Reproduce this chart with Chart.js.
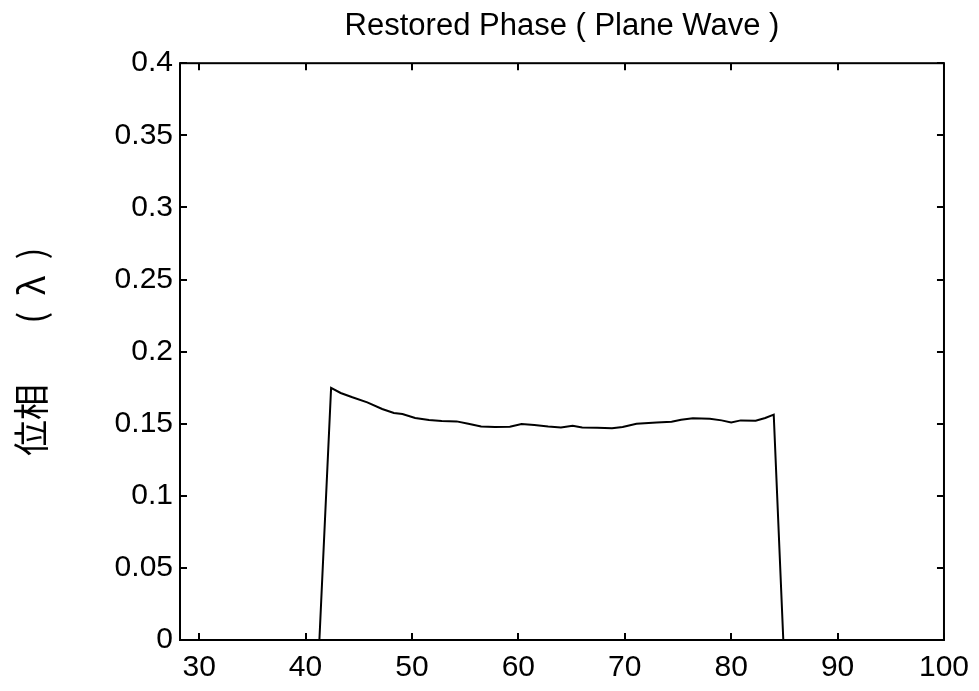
<!DOCTYPE html>
<html>
<head>
<meta charset="utf-8">
<script src="https://cdn.jsdelivr.net/npm/chart.js@4"></script>
<style>html,body{margin:0;padding:0;background:#fff;}</style>
</head>
<body>
<canvas id="c" width="979" height="691"></canvas>
<script>
// ---- data ----
const titleText = 'Restored Phase ( Plane Wave )';
const yTitleText = '位相　   (  λ  )';
const xValues = [28.2, 41.3, 42.4, 43.3, 44.4, 45.8, 47.2, 48.3, 49.1, 50.3,
                 51.6, 52.8, 54.2, 55.3, 56.5, 57.8, 59.2, 60.3, 61.5, 62.8,
                 64.0, 65.1, 66.0, 67.4, 68.8, 69.8, 71.1, 73.0, 74.4, 75.3,
                 76.4, 78.0, 79.1, 80.0, 80.9, 82.3, 83.2, 84.0, 84.9, 100];
const phase = [0, 0, 0.1748, 0.1713, 0.1683, 0.1648, 0.1602, 0.1574, 0.1567, 0.1540,
               0.1525, 0.1519, 0.1516, 0.1500, 0.1481, 0.1477, 0.1479, 0.1498, 0.1491, 0.1481,
               0.1474, 0.1486, 0.1474, 0.1472, 0.1468, 0.1477, 0.1500, 0.1509, 0.1514, 0.1528,
               0.1537, 0.1535, 0.1523, 0.1509, 0.1523, 0.1521, 0.1540, 0.1563, 0, 0];
const xTicks = [30, 40, 50, 60, 70, 80, 90, 100];
const yTicks = [0, 0.05, 0.1, 0.15, 0.2, 0.25, 0.3, 0.35, 0.4];
const xMin = 28.2, xMax = 100, yMin = 0, yMax = 0.4;

const FONT = '"Liberation Sans", Arial, Helvetica, sans-serif';

const boxPlugin = {
  id: 'boxTicks',
  afterDatasetsDraw(chart) {
    const {ctx, chartArea: a, scales: {x, y}} = chart;
    const L = 7;
    ctx.save();
    ctx.strokeStyle = '#000';
    ctx.lineWidth = 2;
    ctx.strokeRect(a.left, a.top, a.right - a.left, a.bottom - a.top);
    ctx.beginPath();
    x.ticks.forEach(t => {
      const px = Math.round(x.getPixelForValue(t.value));
      ctx.moveTo(px, a.bottom); ctx.lineTo(px, a.bottom - L);
      ctx.moveTo(px, a.top); ctx.lineTo(px, a.top + L);
    });
    y.ticks.forEach(t => {
      const py = Math.round(y.getPixelForValue(t.value));
      ctx.moveTo(a.left, py); ctx.lineTo(a.left + L, py);
      ctx.moveTo(a.right, py); ctx.lineTo(a.right - L, py);
    });
    ctx.stroke();
    ctx.restore();
  }
};

new Chart(document.getElementById('c'), {
  type: 'line',
  data: {
    datasets: [{
      data: xValues.map((v, i) => ({x: v, y: phase[i]})),
      borderColor: '#000',
      borderWidth: 2,
      pointRadius: 0,
      tension: 0,
      fill: false
    }]
  },
  options: {
    responsive: false,
    animation: false,
    layout: {padding: {left: 0, right: 31, top: 0, bottom: 0}},
    plugins: {
      legend: {display: false},
      tooltip: {enabled: false},
      title: {
        display: true,
        fullSize: false,
        text: titleText,
        color: '#000',
        font: {family: FONT, size: 31, weight: 'normal'},
        padding: {top: 8, bottom: 18}
      }
    },
    scales: {
      x: {
        type: 'linear',
        min: xMin, max: xMax,
        afterBuildTicks: s => { s.ticks = xTicks.map(v => ({value: v})); },
        afterFit: s => { s.height = 51; },
        grid: {display: false, drawTicks: false},
        border: {display: false},
        ticks: {padding: 10, color: '#000', autoSkip: false, maxRotation: 0,
                font: {family: FONT, size: 30}, callback: v => String(v)}
      },
      y: {
        type: 'linear',
        min: yMin, max: yMax,
        afterBuildTicks: s => { s.ticks = yTicks.map(v => ({value: v})); },
        afterFit: s => { s.width = 180; },
        grid: {display: false, drawTicks: false},
        border: {display: false},
        ticks: {padding: 7, color: '#000', autoSkip: false,
                font: {family: FONT, size: 30}, callback: v => String(v)},
        title: {
          display: true,
          text: yTitleText,
          color: '#000',
          font: {family: '"Noto Sans CJK JP", "Noto Sans CJK SC", sans-serif', size: 36},
          padding: {top: 10, bottom: 0}
        }
      }
    }
  },
  plugins: [boxPlugin]
});
</script>
</body>
</html>
